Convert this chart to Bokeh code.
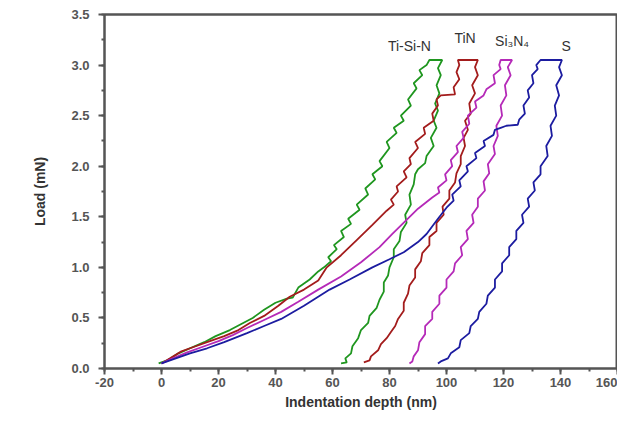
from bokeh.plotting import figure
from bokeh.models import Range1d, SingleIntervalTicker, FixedTicker, ColumnDataSource, PrintfTickFormatter, LinearAxis
from bokeh.core.properties import value
from bokeh.embed import file_html
from bokeh.resources import INLINE

# ---- data (depth nm, load mN): loading, hold, unloading ----
tisin_depth = [-1, 2, 6, 10, 15, 19, 24, 28, 32, 36, 40, 44, 46, 48, 52, 55,
               57, 59.5, 58.5, 61.5, 60.5, 64, 63, 66.5, 65.5, 69.5, 68.5, 72.5, 71.5, 75, 74, 77.5, 76.5, 80, 79, 82.5, 81.5,
               85, 84, 87.5, 86.5, 89.5, 88.5, 91.5, 90.5, 93, 94,
               98.5, 97, 98, 96.5, 97.5, 96, 97, 95.5, 96.5, 94.5, 95.5, 93, 92.5, 90, 89, 88.5, 87, 87.5, 85.5, 86, 84, 83.5,
               81.5, 81.5, 80, 79.5, 78, 78, 76.5, 75.5, 73, 72.5, 70, 69, 67, 66.5, 64.5, 65, 63]
tisin_load = [0.05, 0.08, 0.15, 0.2, 0.26, 0.32, 0.38, 0.44, 0.5, 0.58, 0.65, 0.69, 0.70, 0.80, 0.88, 0.96,
              1.0, 1.06, 1.1, 1.18, 1.22, 1.3, 1.36, 1.43, 1.48, 1.57, 1.62, 1.72, 1.78, 1.87, 1.92, 2.0, 2.05, 2.18, 2.24, 2.33, 2.38,
              2.45, 2.5, 2.6, 2.66, 2.77, 2.82, 2.9, 2.95, 3.0, 3.05,
              3.05, 2.97, 2.9, 2.8, 2.72, 2.62, 2.55, 2.45, 2.38, 2.28, 2.2, 2.1, 2.03, 1.97, 1.92, 1.82, 1.72, 1.62, 1.52, 1.44, 1.35, 1.26,
              1.18, 1.1, 1.0, 0.92, 0.85, 0.76, 0.68, 0.6, 0.52, 0.45, 0.38, 0.3, 0.22, 0.15, 0.1, 0.06, 0.05]

tin_depth = [0, 3, 7, 12, 17, 22, 27, 31, 36, 41, 45, 50, 55, 58, 63, 68.5, 74,
             79, 81.5, 80.5, 83, 82.5, 86, 85, 87.5, 87, 90, 89, 92.5, 92, 95.5, 95, 97, 96.5, 98, 103, 102.5, 104.5, 103.5, 104.5, 104,
             111, 110, 111, 109, 110, 108, 108.5, 106.5, 107.5, 106, 106.5, 105, 105, 103.5, 103, 101, 101, 98.6, 99, 96.5, 96.5,
             94, 94, 91.5, 91, 89, 89, 87, 86.5, 85, 85, 83, 82, 80.5, 79, 77, 76, 73.5, 73, 71]
tin_load = [0.05, 0.1, 0.17, 0.22, 0.27, 0.32, 0.38, 0.45, 0.52, 0.62, 0.71, 0.78, 0.87, 1.0, 1.12, 1.27, 1.42,
            1.56, 1.62, 1.67, 1.75, 1.8, 1.89, 1.95, 2.02, 2.08, 2.18, 2.24, 2.32, 2.38, 2.45, 2.52, 2.6, 2.66, 2.7, 2.71, 2.78, 2.86, 2.93, 3.0, 3.05,
            3.05, 2.98, 2.9, 2.8, 2.72, 2.62, 2.52, 2.45, 2.36, 2.28, 2.2, 2.1, 2.02, 1.93, 1.84, 1.76, 1.68, 1.6, 1.52, 1.44, 1.36,
            1.3, 1.22, 1.14, 1.06, 0.98, 0.9, 0.82, 0.74, 0.65, 0.57, 0.49, 0.42, 0.36, 0.3, 0.24, 0.18, 0.12, 0.08, 0.06]

si3n4_depth = [0, 4, 9, 15, 20, 25, 30, 36, 42, 48, 55, 63, 70, 76.5, 81, 86, 90,
               95, 97.5, 97, 100, 99.5, 102, 101.5, 104, 103.5, 106, 105.5, 108, 107.5, 110.5, 110, 113, 114, 117, 116.5, 119, 118.5, 119,
               123, 121.5, 122.5, 120.5, 121, 119, 119.5, 117.5, 118, 116.5, 117, 114.5, 115, 113, 113.5, 111, 111, 109, 109.5, 107, 107.5,
               105, 105.5, 103, 102.5, 100, 100, 97.5, 97.5, 95, 95, 92.5, 92.5, 90.5, 90, 88.5, 88, 87]
si3n4_load = [0.05, 0.1, 0.16, 0.22, 0.27, 0.33, 0.4, 0.48, 0.56, 0.66, 0.78, 0.91, 1.05, 1.2, 1.33, 1.47, 1.58,
              1.69, 1.74, 1.79, 1.86, 1.92, 2.0, 2.06, 2.14, 2.2, 2.28, 2.34, 2.42, 2.5, 2.58, 2.64, 2.7, 2.76, 2.82, 2.9, 2.96, 3.0, 3.05,
              3.05, 2.98, 2.9, 2.8, 2.7, 2.6, 2.5, 2.4, 2.3, 2.2, 2.12, 2.02, 1.93, 1.85, 1.76, 1.68, 1.6, 1.52, 1.44, 1.36, 1.28,
              1.2, 1.12, 1.04, 0.96, 0.88, 0.8, 0.72, 0.64, 0.56, 0.49, 0.42, 0.34, 0.26, 0.18, 0.12, 0.07, 0.05]

s_depth = [0, 4, 10, 16, 22, 30, 36, 42, 50, 59, 66, 74, 80, 85, 90, 93, 97,
           100, 102.5, 102, 105, 104.5, 107.5, 107, 110.5, 110, 113.5, 113, 116.5, 117, 119, 121, 125, 125.5, 127.5, 127, 129, 128.5,
           130.5, 130, 132, 131.5, 133,
           140.5, 139.5, 140.5, 138.5, 139.5, 138, 138.5, 136.5, 137, 135, 135.5, 133, 133, 130.5, 131, 128.5, 129, 126.5, 127,
           124.5, 124.5, 122, 122, 119.5, 119.5, 117, 117, 114.5, 114, 111.5, 111, 108.5, 108, 105, 104.5, 101.5, 100.5, 98, 97]
s_load = [0.05, 0.09, 0.15, 0.2, 0.26, 0.35, 0.42, 0.49, 0.62, 0.78, 0.88, 1.0, 1.08, 1.15, 1.25, 1.33, 1.48,
          1.59, 1.66, 1.72, 1.8, 1.86, 1.95, 2.0, 2.08, 2.13, 2.2, 2.25, 2.31, 2.36, 2.38, 2.4, 2.41, 2.46, 2.52, 2.6, 2.68, 2.75,
          2.82, 2.9, 2.96, 3.0, 3.05,
          3.05, 2.98, 2.9, 2.8, 2.7, 2.6, 2.5, 2.4, 2.3, 2.2, 2.1, 2.0, 1.92, 1.84, 1.76, 1.68, 1.6, 1.52, 1.44,
          1.36, 1.28, 1.2, 1.12, 1.04, 0.96, 0.88, 0.8, 0.72, 0.64, 0.56, 0.49, 0.42, 0.35, 0.28, 0.21, 0.15, 0.1, 0.07, 0.05]

series_names = ["Ti-Si-N", "TiN", "Si\u2083N\u2084", "S"]
series_colors = ["#1f961f", "#a31c1c", "#b52ab8", "#1c1ca0"]
label_x = [87, 106.5, 123, 142]
label_y = [3.19, 3.27, 3.24, 3.19]

x_ticks_step = 20
y_ticks_step = 0.5

p = figure(width=617, height=412, output_backend="svg", toolbar_location=None,
           x_range=Range1d(-20, 160), y_range=Range1d(0, 3.5),
           min_border_left=104, min_border_right=0, min_border_top=14, min_border_bottom=40)
p.background_fill_color = "white"
p.border_fill_color = "white"
p.outline_line_color = "#555555"
p.outline_line_width = 2
p.grid.visible = False

for d, l, c in zip([tisin_depth, tin_depth, si3n4_depth, s_depth],
                   [tisin_load, tin_load, si3n4_load, s_load], series_colors):
    p.line(d, l, line_color=c, line_width=1.8)

# plain frame edges on top and right (no ticks, no labels)
for loc in ("above", "right"):
    ax = LinearAxis(ticker=FixedTicker(ticks=[]), major_tick_out=0, major_tick_in=0,
                    minor_tick_out=0, minor_tick_in=0,
                    axis_line_color="#555555", axis_line_width=2)
    p.add_layout(ax, loc)

src = ColumnDataSource(dict(x=label_x, y=label_y, t=series_names))
p.text(x="x", y="y", text="t", source=src, text_align="center", text_baseline="middle",
       text_font=value("Liberation Sans"), text_font_size="14px", text_color="#333333")

xa = p.below[0]
ya = p.left[0]
xa.ticker = SingleIntervalTicker(interval=x_ticks_step, num_minor_ticks=2)
ya.ticker = SingleIntervalTicker(interval=y_ticks_step, num_minor_ticks=2)
xa.formatter = PrintfTickFormatter(format="%d")
ya.formatter = PrintfTickFormatter(format="%.1f")
for ax in (xa, ya):
    ax.axis_line_color = "#555555"
    ax.axis_line_width = 2
    ax.major_tick_line_color = "#555555"
    ax.minor_tick_line_color = "#555555"
    ax.major_tick_line_width = 2
    ax.minor_tick_line_width = 2
    ax.major_tick_in = 0
    ax.major_tick_out = 6
    ax.minor_tick_in = 0
    ax.minor_tick_out = 3
    ax.major_label_text_font = "Liberation Sans"
    ax.major_label_text_font_style = "bold"
    ax.major_label_text_font_size = "13px"
    ax.major_label_text_color = "#555555"
    ax.axis_label_text_font = "Liberation Sans"
    ax.axis_label_text_font_style = "bold"
    ax.axis_label_text_font_size = "14px"
    ax.axis_label_text_color = "#333333"
xa.axis_label = "Indentation depth (nm)"
ya.axis_label = "Load (mN)"
ya.major_label_standoff = 9
ya.axis_label_standoff = 20
xa.major_label_standoff = 3
xa.axis_label_standoff = 4

open("out.html", "w").write(file_html(p, INLINE))
